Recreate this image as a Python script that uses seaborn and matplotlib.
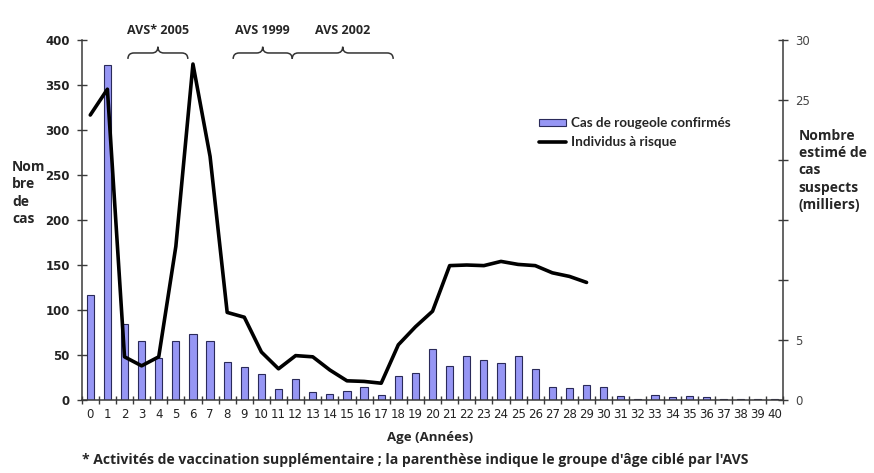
import numpy as np
import pandas as pd
import seaborn as sns
import matplotlib.pyplot as plt
from matplotlib.path import Path
from matplotlib.patches import PathPatch, Patch
from matplotlib.lines import Line2D

# Confirmed measles cases by age (years)
ages = list(range(0, 41))
confirmed_cases = [117, 372, 84, 66, 47, 66, 73, 66, 42, 37,
                   29, 12, 23, 9, 7, 10, 14, 6, 27, 30,
                   57, 38, 49, 44, 41, 49, 34, 14, 13, 17,
                   14, 4, 1, 6, 3, 4, 3, 0.6, 0.6, 1, 1]

# Estimated susceptible individuals (thousands), ages 0-29
risk_ages = list(range(0, 30))
at_risk = [23.75, 25.9, 3.6, 2.85, 3.6, 12.8, 28.0, 20.3, 7.3, 6.9,
           4.0, 2.6, 3.7, 3.6, 2.5, 1.6, 1.55, 1.4, 4.6, 6.1,
           7.4, 11.2, 11.25, 11.2, 11.55, 11.3, 11.2, 10.6, 10.3, 9.8]

# Supplementary immunisation campaigns and the age span each targeted
campaign_labels = ["AVS* 2005", "AVS 1999", "AVS 2002"]
campaign_start = [2.2, 8.35, 11.8]
campaign_end = [5.7, 11.8, 17.7]

left_ticks = [0, 50, 100, 150, 200, 250, 300, 350, 400]
right_ticks = [0, 5, 10, 15, 20, 25, 30]
right_tick_labels = ["0", "5", "", "", "", "25", "30"]

cases_df = pd.DataFrame({"age": ages, "cas": confirmed_cases})
risk_df = pd.DataFrame({"age": risk_ages, "risque": at_risk})

sns.set_style("white")
plt.rcParams["font.family"] = ["DejaVu Sans"]

BAR_FACE = "#9696f4"
BAR_EDGE = "#2a2a5a"
SPINE = "#3a3a3a"

fig = plt.figure(figsize=(8.74, 4.73), dpi=100)
ax = fig.add_axes([0.0935, 0.1543, 0.8028, 0.7611])

sns.barplot(data=cases_df, x="age", y="cas", ax=ax, color=BAR_FACE,
            edgecolor=BAR_EDGE, linewidth=0.8, width=0.42, saturation=1)
ax.set_xlim(-0.5, 40.5)
ax.set_ylim(0, 400)
ax.set_xlabel("")
ax.set_ylabel("")

ax2 = ax.twinx()
sns.lineplot(data=risk_df, x="age", y="risque", ax=ax2, color="black",
             linewidth=2.6, solid_joinstyle="round")
ax2.set_ylim(0, 30)
ax2.set_xlim(-0.5, 40.5)
ax2.set_ylabel("")
ax2.set_xlabel("")

# Spines
for a in (ax, ax2):
    a.spines["top"].set_visible(False)
    for s in ("left", "right", "bottom"):
        a.spines[s].set_color(SPINE)
        a.spines[s].set_linewidth(1.1)
ax.spines["right"].set_visible(False)
ax2.spines["left"].set_visible(False)
ax2.spines["bottom"].set_visible(False)

# X ticks: labels under bars, tick marks between bars
ax.set_xticks(ages)
ax.set_xticklabels([str(a) for a in ages], fontsize=8.5, color="#222222")
ax.set_xticks(np.arange(-0.5, 40.6, 1.0), minor=True)
ax.tick_params(axis="x", which="major", length=0, pad=6)
ax.tick_params(axis="x", which="minor", direction="inout", length=6,
               width=1, color=SPINE, bottom=True)

# Left axis
ax.set_yticks(left_ticks)
ax.set_yticklabels([str(t) for t in left_ticks], fontsize=8.5,
                   fontweight="bold", color="#222222")
ax.tick_params(axis="y", which="major", direction="inout", length=7,
               width=1, color=SPINE, left=True, pad=5)

# Right axis
ax2.set_yticks(right_ticks)
ax2.set_yticklabels(right_tick_labels, fontsize=8.5, color="#444444")
ax2.tick_params(axis="y", which="major", direction="inout", length=7,
                width=1, color=SPINE, right=True, pad=5)

# Axis titles
fig.text(0.014, 0.592, "Nom\nbre\nde\ncas", fontsize=10, fontweight="bold",
         family="Open Sans", ha="left", va="center", linespacing=1.3)
fig.text(0.914, 0.64, "Nombre\nestimé de\ncas\nsuspects\n(milliers)",
         fontsize=10, fontweight="bold", family="Open Sans", ha="left",
         va="center", linespacing=1.3)
fig.text(0.492, 0.075, "Age (Années)", fontsize=9.5, fontweight="bold",
         family="Open Sans", ha="center", va="center")
fig.text(0.094, 0.027,
         "* Activités de vaccination supplémentaire ; la parenthèse indique "
         "le groupe d'âge ciblé par l'AVS",
         fontsize=10.1, fontweight="bold", family="Open Sans", ha="left",
         va="center")


def brace(axis, x0, x1, y_flat=385.6, y_end=379.0, y_tip=392.5, r=0.35):
    """Horizontal curly brace from x0 to x1, opening downwards."""
    xm = (x0 + x1) / 2.0
    verts = [(x0, y_end), (x0, y_flat), (x0 + r, y_flat),
             (xm - r, y_flat), (xm, y_flat), (xm, y_tip),
             (xm, y_flat), (xm + r, y_flat),
             (x1 - r, y_flat), (x1, y_flat), (x1, y_end)]
    codes = [Path.MOVETO, Path.CURVE3, Path.CURVE3,
             Path.LINETO, Path.CURVE3, Path.CURVE3,
             Path.CURVE3, Path.CURVE3,
             Path.LINETO, Path.CURVE3, Path.CURVE3]
    patch = PathPatch(Path(verts, codes), facecolor="none",
                      edgecolor="#333333", linewidth=1.1, clip_on=False)
    axis.add_patch(patch)
    return xm


for label, x0, x1 in zip(campaign_labels, campaign_start, campaign_end):
    xm = brace(ax, x0, x1)
    ax.text(xm, 403, label, fontsize=9, fontweight="bold", family="Open Sans",
            ha="center", va="bottom", clip_on=False)

# Legend
handles = [Patch(facecolor=BAR_FACE, edgecolor=BAR_EDGE, linewidth=0.8),
           Line2D([0], [0], color="black", linewidth=2.6)]
fig.legend(handles, ["Cas de rougeole confirmés", "Individus à risque"],
           loc="upper left", bbox_to_anchor=(0.606, 0.772), frameon=False,
           prop={"family": "Lato", "weight": "bold", "size": 9.7},
           handlelength=2.0, handleheight=0.45, handletextpad=0.35,
           labelspacing=0.5, borderpad=0.2)

fig.savefig("out.png", dpi=100, facecolor="white")
